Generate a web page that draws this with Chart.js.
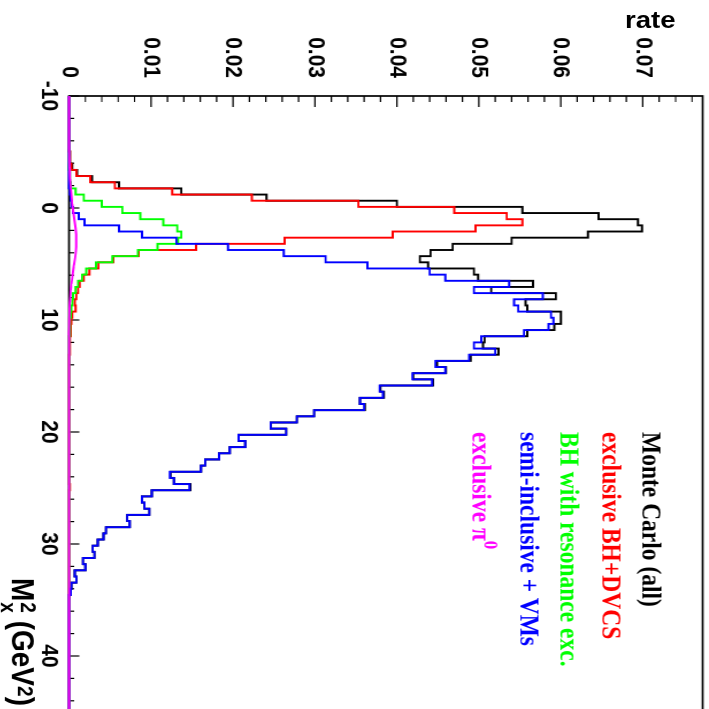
<!DOCTYPE html>
<html>
<head>
<meta charset="utf-8">
<script src="https://cdn.jsdelivr.net/npm/chart.js@4.4.1/dist/chart.umd.min.js"></script>
<style>
  html, body { margin:0; padding:0; background:#fff; overflow:hidden; width:709px; height:709px; }
  #rot { position:absolute; left:0; top:0; width:740px; height:617px;
         transform-origin:0 0; transform: translate(709px,0) rotate(90deg) scale(1,1.15); }
  #c { position:absolute; left:0; top:0; width:740px; height:617px; }
  .leg { position:absolute; left:432px; font-family:'Liberation Serif','Times New Roman',serif;
         font-weight:bold; font-size:23.5px; line-height:23.5px; white-space:nowrap; }
  .leg sup { font-size:17px; position:relative; top:-2px; }
  #xt { position:absolute; left:578px; top:583px; font-family:'Liberation Sans',Arial,sans-serif;
        font-weight:bold; font-size:28px; line-height:28px; white-space:nowrap; color:#000; }
  #xt .st { display:inline-block; vertical-align:-10px; font-size:19px; line-height:18px; margin-left:1px; }
  #xt .st span { display:block; }
  #xt sup { font-size:19px; position:relative; top:-5px; vertical-align:baseline; }
  #rate { position:absolute; left:625px; top:8px; font-family:'Liberation Sans',Arial,sans-serif;
          font-weight:bold; font-size:24px; line-height:24px; transform-origin:0 0; transform:scaleX(1.15); }
</style>
</head>
<body>
<div id="rot">
  <canvas id="c" width="740" height="617"></canvas>
  <div class="leg" style="top:39px;color:#000000">Monte Carlo (all)</div>
  <div class="leg" style="top:74px;color:#ff0000">exclusive BH+DVCS</div>
  <div class="leg" style="top:109.5px;color:#00ff00">BH with resonance exc.</div>
  <div class="leg" style="top:144.5px;color:#0000ff">semi-inclusive + VMs</div>
  <div class="leg" style="top:180px;color:#ff00ff">exclusive π<sup>0</sup></div>
  <div id="xt">M<span class="st"><span>2</span><span>x</span></span> (GeV<sup>2</sup>)</div>
</div>
<div id="rate">rate</div>
<script>
// ---- binning (Mx^2, GeV^2) ----
const X_MIN = -10, X_MAX = 45, N_BINS = 100;
const Y_MAX = 0.0773;

// ---- tick labels ----
const xTickValues = [-10, 0, 10, 20, 30, 40];
const xTickLabels = ['-10', '0', '10', '20', '30', '40'];
const yTickValues = [0, 0.01, 0.02, 0.03, 0.04, 0.05, 0.06, 0.07];
const yTickLabels = ['0', '0.01', '0.02', '0.03', '0.04', '0.05', '0.06', '0.07'];

// ---- series names ----
const seriesNames = ['Monte Carlo (all)', 'exclusive BH+DVCS', 'BH with resonance exc.', 'semi-inclusive + VMs', 'exclusive π0'];

// ---- series values (rate per bin, 100 bins) ----
const monteCarloAll = [
  0,0,0,0,0,0,0,0,0,0.0001,
  0.0001,0.0004,0.0010,0.0028,0.0061,0.0137,0.0241,0.0400,0.0553,0.0646,
  0.0694,0.0699,0.0633,0.0540,0.0468,0.0441,0.0428,0.0438,0.0494,0.0499,
  0.0566,0.0515,0.0594,0.0557,0.0559,0.0600,0.0600,0.0592,0.0559,0.0507,
  0.0505,0.0524,0.0490,0.0449,0.0460,0.0420,0.0444,0.0380,0.0384,0.0355,
  0.0361,0.0299,0.0278,0.0246,0.0265,0.0207,0.0215,0.0196,0.0183,0.0166,
  0.0161,0.0124,0.0128,0.0148,0.0101,0.0089,0.0092,0.0098,0.0071,0.0074,
  0.0045,0.0042,0.0035,0.0029,0.0031,0.0017,0.0020,0.0007,0.0009,0.0003,
  0.0002,0,0,0,0,0,0,0,0,0,
  0,0,0,0,0,0,0,0,0,0
];
const exclusiveBHDVCS = [
  0,0,0,0,0,0,0,0,0,0.0001,
  0.0001,0.0003,0.0009,0.0026,0.0056,0.0126,0.0223,0.0353,0.0470,0.0534,
  0.0553,0.0496,0.0395,0.0263,0.0155,0.0085,0.0054,0.0036,0.0025,0.0018,
  0.0013,0.0011,0.0009,0.0007,0.0008,0.0004,0.0003,0.0002,0.0002,0.0001,
  0.0001,0.0001,0,0,0,0,0,0,0,0,
  0,0,0,0,0,0,0,0,0,0,
  0,0,0,0.0001,0,0,0,0,0,0,
  0,0,0,0,0,0,0,0,0,0,
  0,0,0,0,0,0,0,0,0,0,
  0,0,0,0,0,0,0,0,0,0
];
const bhResonance = [
  0,0,0,0,0,0,0,0,0,0,
  0,0,0.0001,0.0001,0.0002,0.0008,0.0018,0.0040,0.0065,0.0087,
  0.0115,0.0132,0.0137,0.0133,0.0108,0.0084,0.0053,0.0033,0.0021,0.0016,
  0.0011,0.0008,0.0005,0.0004,0.0003,0.0002,0.0001,0.0001,0.0001,0,
  0,0,0,0,0,0,0,0,0,0,
  0,0,0,0,0,0,0,0,0,0,
  0,0,0,0,0,0,0,0,0,0,
  0,0,0,0,0,0,0,0,0,0,
  0,0,0,0,0,0,0,0,0,0,
  0,0,0,0,0,0,0,0,0,0
];
const semiInclusiveVM = [
  0,0,0,0,0,0,0,0,0,0,
  0,0,0,0,0,0.0001,0.0002,0.0003,0.0005,0.0012,
  0.0019,0.0061,0.0089,0.0131,0.0194,0.0262,0.0313,0.0364,0.0440,0.0459,
  0.0537,0.0494,0.0578,0.0543,0.0548,0.0588,0.0591,0.0585,0.0555,0.0503,
  0.0494,0.0520,0.0488,0.0447,0.0459,0.0419,0.0443,0.0379,0.0383,0.0355,
  0.0360,0.0299,0.0278,0.0246,0.0265,0.0207,0.0215,0.0196,0.0183,0.0166,
  0.0161,0.0123,0.0128,0.0147,0.0101,0.0089,0.0092,0.0098,0.0071,0.0074,
  0.0045,0.0042,0.0035,0.0029,0.0031,0.0017,0.0020,0.0007,0.0009,0.0003,
  0.0002,0,0,0,0,0,0,0,0,0,
  0,0,0,0,0,0,0,0,0,0
];
const exclusivePi0 = [
  0,0,0,0,0,0,0,0,0,0.00002,
  0.00004,0.00006,0.0001,0.00014,0.0002,0.00026,0.00033,0.0004,0.0005,0.0006,
  0.0007,0.0008,0.00087,0.0009,0.00088,0.00082,0.00072,0.0006,0.0005,0.0004,
  0.0003,0.00022,0.00016,0.0001,0.00007,0.00005,0.00003,0.00002,0,0,
  0,0,0,0,0,0,0,0,0,0,
  0,0,0,0,0,0,0,0,0,0,
  0,0,0,0,0,0,0,0,0,0,
  0,0,0,0,0,0,0,0,0,0,
  0,0,0,0,0,0,0,0,0,0,
  0,0,0,0,0,0,0,0,0,0
];

// ---- build points from bins ----
const BIN_W = (X_MAX - X_MIN) / N_BINS;
const edges = Array.from({length: N_BINS + 1}, (_, i) => X_MIN + i * BIN_W);
function histPoints(vals) {
  const pts = vals.map((v, i) => ({x: edges[i], y: v}));
  pts.push({x: edges[N_BINS], y: vals[N_BINS - 1]});
  return pts;
}
function curvePoints(vals) {
  const pts = [{x: X_MIN, y: vals[0]}];
  vals.forEach((v, i) => pts.push({x: edges[i] + BIN_W / 2, y: v}));
  pts.push({x: X_MAX, y: vals[N_BINS - 1]});
  return pts;
}

const frameTicks = {
  id: 'frameTicks',
  beforeDatasetsDraw(chart) {
    const {ctx, chartArea: a, scales: {x, y}} = chart;
    ctx.save();
    ctx.strokeStyle = '#000';
    ctx.lineWidth = 1.7;
    ctx.strokeRect(a.left, a.top, a.right - a.left, a.bottom - a.top);
    ctx.lineWidth = 1.2;
    ctx.beginPath();
    for (let k = 0; X_MIN + 2 * k <= X_MAX; k++) {
      const v = X_MIN + 2 * k;
      const px = x.getPixelForValue(v);
      const len = (v % 10 === 0) ? 9 : 4.5;
      ctx.moveTo(px, a.bottom); ctx.lineTo(px, a.bottom - len);
    }
    for (let k = 0; k * 0.002 <= Y_MAX; k++) {
      const py = y.getPixelForValue(k * 0.002);
      const len = (k % 5 === 0) ? 11 : 6;
      ctx.moveTo(a.left, py); ctx.lineTo(a.left + len, py);
    }
    ctx.stroke();
    ctx.restore();
  }
};

const tickFont = {family: "'Liberation Sans', Arial, sans-serif", size: 21, weight: 'bold'};
const common = {pointRadius: 0, borderWidth: 1.9, fill: false, clip: false, tension: 0};

new Chart(document.getElementById('c'), {
  type: 'line',
  data: {
    datasets: [
      {...common, label: seriesNames[0], data: histPoints(monteCarloAll), borderColor: '#000000', stepped: true, order: 5},
      {...common, label: seriesNames[1], data: histPoints(exclusiveBHDVCS), borderColor: '#ff0000', stepped: true, order: 4},
      {...common, label: seriesNames[2], data: histPoints(bhResonance), borderColor: '#00ff00', stepped: true, order: 3},
      {...common, label: seriesNames[3], data: histPoints(semiInclusiveVM), borderColor: '#0000ff', stepped: true, order: 2},
      {...common, label: seriesNames[4], data: curvePoints(exclusivePi0), borderColor: '#ff00ff', stepped: false, order: 1}
    ]
  },
  options: {
    responsive: false,
    animation: false,
    devicePixelRatio: 1,
    layout: {padding: {left: 0, right: 28, top: 5.5, bottom: 0}},
    plugins: {legend: {display: false}, tooltip: {enabled: false}},
    scales: {
      x: {
        type: 'linear', min: X_MIN, max: X_MAX,
        afterBuildTicks: s => { s.ticks = xTickValues.map(v => ({value: v})); },
        afterFit: s => { s.height = 60.5; s.paddingLeft = 0; s.paddingRight = 0; s.paddingTop = 0; s.paddingBottom = 0; },
        grid: {display: false, drawTicks: false},
        border: {display: false},
        ticks: {
          autoSkip: false, maxRotation: 0, padding: 5, color: '#000', font: tickFont,
          callback: v => { const i = xTickValues.indexOf(v); return i >= 0 ? xTickLabels[i] : ''; }
        }
      },
      y: {
        type: 'linear', min: 0, max: Y_MAX,
        afterBuildTicks: s => { s.ticks = yTickValues.map(v => ({value: v})); },
        afterFit: s => { s.width = 96; s.paddingLeft = 0; s.paddingRight = 0; s.paddingTop = 0; s.paddingBottom = 0; },
        grid: {display: false, drawTicks: false},
        border: {display: false},
        ticks: {
          autoSkip: false, padding: 18, color: '#000', font: tickFont,
          callback: v => { const i = yTickValues.findIndex(t => Math.abs(t - v) < 1e-9); return i >= 0 ? yTickLabels[i] : ''; }
        }
      }
    }
  },
  plugins: [frameTicks]
});
</script>
</body>
</html>
